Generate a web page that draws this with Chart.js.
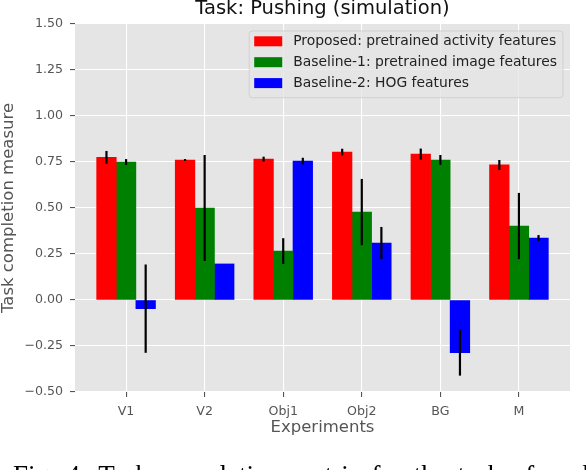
<!DOCTYPE html>
<html>
<head>
<meta charset="utf-8">
<script src="https://cdn.jsdelivr.net/npm/chart.js@4.4.1/dist/chart.umd.min.js"></script>
<style>
  html, body { margin: 0; padding: 0; background: #fff; }
  canvas { display: block; }
</style>
</head>
<body>
<canvas id="chart" width="586" height="470"></canvas>
<script>
// ===== DATA =====
const experiments = ['V1', 'V2', 'Obj1', 'Obj2', 'BG', 'M'];

const proposed = [0.775, 0.761, 0.766, 0.804, 0.793, 0.734];
const proposedErr = [0.035, 0.005, 0.013, 0.018, 0.03, 0.027];

const baseline1 = [0.75, 0.50, 0.266, 0.478, 0.761, 0.402];
const baseline1Err = [0.016, 0.288, 0.07, 0.18, 0.027, 0.18];

const baseline2 = [-0.047, 0.196, 0.755, 0.31, -0.286, 0.337];
const baseline2Err = [0.24, 0, 0.018, 0.087, 0.125, 0.016];

const yTicks = [-0.5, -0.25, 0, 0.25, 0.5, 0.75, 1.0, 1.25, 1.5];

const FONT = 'DejaVu Sans';
Chart.defaults.font.family = FONT;

/** Build {x, y} points so bars sit on integer positions of a linear axis */
function points(values) {
    return values.map((v, i) => ({ x: i, y: v }));
}

// ===== PLUGINS =====

/** Grey ggplot-style panel behind the grid */
const plotBackground = {
    id: 'plotBackground',
    beforeDraw(chart) {
        const { ctx, chartArea: a } = chart;
        ctx.save();
        ctx.fillStyle = '#e5e5e5';
        ctx.fillRect(a.left, a.top, a.right - a.left, a.bottom - a.top);
        ctx.restore();
    }
};

/** Vertical error bars, no caps */
const errorBars = {
    id: 'errorBars',
    afterDatasetsDraw(chart) {
        const { ctx, scales: { y } } = chart;
        ctx.save();
        ctx.strokeStyle = '#000';
        ctx.lineWidth = 2.2;
        chart.data.datasets.forEach((ds, i) => {
            const meta = chart.getDatasetMeta(i);
            meta.data.forEach((bar, j) => {
                const v = ds.data[j].y;
                const e = ds.errors[j];
                if (!e) return;
                ctx.beginPath();
                ctx.moveTo(bar.x, y.getPixelForValue(v - e));
                ctx.lineTo(bar.x, y.getPixelForValue(v + e));
                ctx.stroke();
            });
        });
        ctx.restore();
    }
};

/** Title (partly cut at top), in-plot legend and the cut-off figure caption */
const decorations = {
    id: 'decorations',
    afterDraw(chart) {
        const { ctx, chartArea: a } = chart;
        ctx.save();

        // title
        ctx.fillStyle = '#111';
        ctx.font = `19.5px "${FONT}"`;
        ctx.textAlign = 'center';
        ctx.textBaseline = 'alphabetic';
        ctx.fillText('Task: Pushing (simulation)', (a.left + a.right) / 2, 13.5);

        // legend box, upper right
        ctx.font = `13.9px "${FONT}"`;
        const labels = chart.data.datasets.map(ds => ds.label);
        const textW = Math.max(...labels.map(l => ctx.measureText(l).width));
        const swW = 28, swH = 10, rowH = 20.9;
        const boxW = 5 + swW + 11 + textW + 6;
        const boxH = rowH * labels.length + 4;
        const bx = a.right - 7 - boxW;
        const by = a.top + 7;
        ctx.beginPath();
        ctx.roundRect(bx, by, boxW, boxH, 3);
        ctx.fillStyle = 'rgba(229,229,229,0.8)';
        ctx.fill();
        ctx.strokeStyle = 'rgba(204,204,204,0.8)';
        ctx.lineWidth = 1;
        ctx.stroke();

        ctx.textAlign = 'left';
        ctx.textBaseline = 'middle';
        chart.data.datasets.forEach((ds, i) => {
            const cy = by + 10.3 + i * rowH;
            ctx.fillStyle = ds.backgroundColor;
            ctx.fillRect(bx + 5, cy - swH / 2, swW, swH);
            ctx.fillStyle = '#222';
            ctx.fillText(ds.label, bx + 5 + swW + 11, cy + 0.5);
        });

        // figure caption, mostly below the frame
        ctx.fillStyle = '#000';
        ctx.font = '27px "Liberation Serif"';
        ctx.textAlign = 'left';
        ctx.textBaseline = 'alphabetic';
        if ('wordSpacing' in ctx) ctx.wordSpacing = '4px';
        ctx.fillText('Fig. 4: Task completion metric for the task of pushing', 13, 484);

        ctx.restore();
    }
};

// ===== CHART =====

const tickFont = { family: FONT, size: 12.6 };
const labelFont = { family: FONT, size: 16.5, lineHeight: 1.2 };

new Chart(document.getElementById('chart'), {
    type: 'bar',
    data: {
        datasets: [
            {
                label: 'Proposed: pretrained activity features',
                data: points(proposed),
                errors: proposedErr,
                backgroundColor: '#ff0000'
            },
            {
                label: 'Baseline-1: pretrained image features',
                data: points(baseline1),
                errors: baseline1Err,
                backgroundColor: '#008000'
            },
            {
                label: 'Baseline-2: HOG features',
                data: points(baseline2),
                errors: baseline2Err,
                backgroundColor: '#0000ff'
            }
        ]
    },
    options: {
        responsive: false,
        animation: false,
        layout: { padding: { top: 24, right: 16, left: 0, bottom: 0 } },
        datasets: {
            bar: { barThickness: 19.6, borderWidth: 0, grouped: true }
        },
        plugins: {
            legend: { display: false },
            tooltip: { enabled: false }
        },
        scales: {
            x: {
                type: 'linear',
                offset: false,
                min: -0.65,
                max: 5.65,
                afterFit: (scale) => { scale.height = 78; },
                afterBuildTicks: (scale) => { scale.ticks = experiments.map((_, i) => ({ value: i })); },
                border: { display: false },
                grid: { offset: false, color: '#ffffff', lineWidth: 1.1, tickColor: '#555555', tickLength: 5 },
                ticks: {
                    autoSkip: false,
                    maxRotation: 0,
                    padding: 7,
                    color: '#555555',
                    font: tickFont,
                    callback: (v) => experiments[v] ?? ''
                },
                title: {
                    display: true,
                    text: 'Experiments',
                    color: '#555555',
                    font: labelFont,
                    padding: { top: 0, bottom: 32 }
                }
            },
            y: {
                min: -0.5,
                max: 1.5,
                afterFit: (scale) => { scale.width = 75; },
                afterBuildTicks: (scale) => { scale.ticks = yTicks.map(v => ({ value: v })); },
                border: { display: false },
                grid: { color: '#ffffff', lineWidth: 1.1, tickColor: '#555555', tickLength: 5 },
                ticks: {
                    padding: 7,
                    color: '#555555',
                    font: tickFont,
                    callback: (v) => v < 0 ? '\u2212' + Math.abs(v).toFixed(2) : v.toFixed(2)
                },
                title: {
                    display: true,
                    text: 'Task completion measure',
                    color: '#555555',
                    font: { family: FONT, size: 16.5, lineHeight: 1.05 },
                    padding: { top: 0, bottom: 0 }
                }
            }
        }
    },
    plugins: [plotBackground, errorBars, decorations]
});
</script>
</body>
</html>
